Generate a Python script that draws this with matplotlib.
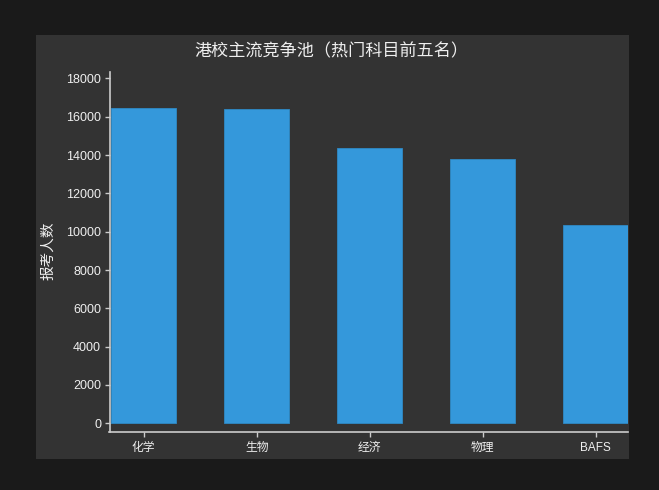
import matplotlib

matplotlib.use("Agg")
import matplotlib.pyplot as plt
from matplotlib.patches import Rectangle

subjects = ["化学", "生物", "经济", "物理", "BAFS"]
applicants = [16470, 16390, 14370, 13810, 10370]
y_ticks = [0, 2000, 4000, 6000, 8000, 10000, 12000, 14000, 16000, 18000]

title = "港校主流竞争池（热门科目前五名）"
y_label = "报考人数"

FONTS = ["Liberation Sans", "Noto Sans CJK SC", "DejaVu Sans"]
TEXT = "#efefef"
AXIS = "#cccccc"
BAR = "#3498db"
PANEL = "#333333"
OUTER = "#1a1a1a"

plt.rcParams["font.family"] = FONTS

fig = plt.figure(figsize=(6.59, 4.90), dpi=100)
fig.patch.set_facecolor(OUTER)

# 截图里的深灰面板
W, H = 659, 490
fig.patches.append(
    Rectangle((36 / W, 1 - 459 / H), 593 / W, 424 / H,
              transform=fig.transFigure, facecolor=PANEL, edgecolor="none", zorder=-5)
)

ax = fig.add_axes([109.5 / W, 1 - 431.5 / H, 518.5 / W, 359.8 / H])
ax.set_facecolor("none")
ax.set_zorder(2)

x = range(len(subjects))
ax.bar(x, applicants, width=0.575, color=BAR, edgecolor="#2f89c5", linewidth=0.6, zorder=2)

ax.set_xlim(-0.302, 4.286)
ax.set_ylim(-433, 18355)
ax.set_xticks(list(x))
ax.set_xticklabels(subjects, fontsize=8.5, color=TEXT)
ax.set_yticks(y_ticks)
ax.set_yticklabels([str(v) for v in y_ticks], fontsize=9, color=TEXT)

for side in ["top", "right"]:
    ax.spines[side].set_visible(False)
for side in ["left", "bottom"]:
    ax.spines[side].set_color(AXIS)
    ax.spines[side].set_linewidth(1.2)

ax.tick_params(axis="both", colors=AXIS, length=3.5, width=1)
ax.tick_params(axis="y", pad=2.5, labelcolor=TEXT)
ax.tick_params(axis="x", pad=4, labelcolor=TEXT)

fig.text(48 / W, 1 - 251 / H, y_label, rotation=90, ha="center", va="center",
         fontsize=10.5, color=TEXT, zorder=3)
fig.text(331 / W, 1 - 51.5 / H, title, ha="center", va="center",
         fontsize=12.3, color=TEXT, fontweight="medium", zorder=3)

fig.savefig("out.png", dpi=100, facecolor=fig.get_facecolor())
